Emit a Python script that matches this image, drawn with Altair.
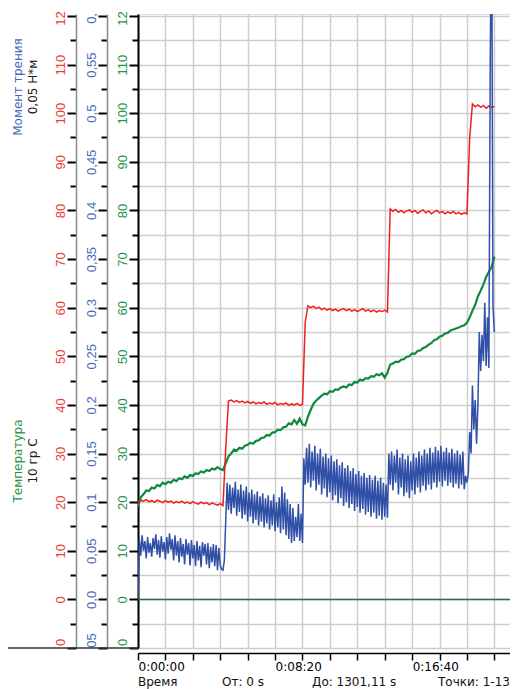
import altair as alt
import pandas as pd

# ---------------- data ----------------
red_step = 10   # seconds between red samples
red_values = [
    19.9, 20.4, 20.2, 20.5, 20.1, 20.3, 20.0, 20.4, 20.2, 19.9,
    20.3, 20.0, 20.2, 19.8, 20.1, 19.9, 20.2, 19.8, 20.0, 19.7,
    20.1, 19.8, 19.6, 20.0, 19.7, 19.9, 19.5, 19.8, 19.6, 19.4,
    19.7, 19.3, 31.0, 40.8,
    41.0, 40.6, 40.9, 40.5, 40.8, 40.4, 40.7, 40.3, 40.6, 40.2,
    40.5, 40.3, 40.6, 40.1, 40.4, 40.2, 40.5, 40.0, 40.3, 40.1,
    40.4, 39.9, 40.2, 40.0, 40.3, 39.9, 40.1,
    57.0, 60.4,
    60.0, 60.3, 59.8, 60.1, 59.6, 59.9, 59.5, 59.8, 59.4, 59.7,
    59.3, 59.6, 59.8, 59.4, 59.7, 59.3, 59.6, 59.2, 59.5, 59.8,
    59.3, 59.6, 59.2, 59.5, 59.1, 59.4, 59.2, 59.5, 59.1,
    80.3,
    79.8, 80.2, 79.6, 80.0, 79.5, 79.9, 80.1, 79.6, 80.0, 79.4,
    79.8, 80.1, 79.5, 79.9, 79.3, 79.7, 80.0, 79.5, 79.8, 79.3,
    79.7, 79.4, 79.8, 79.3, 79.6, 79.2, 79.5, 79.3,
    95.0, 101.9,
    101.3, 101.7, 101.2, 101.6, 101.0, 101.5, 101.2, 101.4,
]

green_step = 10
green_values = [
    19.0, 21.0, 21.6, 22.4, 22.3, 23.0, 22.8, 23.5, 23.3, 24.0,
    23.7, 24.2, 24.0, 24.6, 24.3, 24.9, 24.7, 25.3, 25.0, 25.6,
    25.4, 25.9, 25.8, 26.3, 26.1, 26.6, 26.4, 26.9, 26.7, 27.2,
    26.8, 26.6, 28.0, 29.4, 30.0, 30.8, 30.6, 31.2, 31.0, 31.6,
    31.8, 32.2, 32.0, 32.6, 32.7, 33.2, 33.3, 33.8, 33.7, 34.3,
    34.4, 34.9, 34.8, 35.4, 35.5, 36.2, 36.0, 36.9, 36.1, 37.2,
    36.0, 35.8, 37.6, 39.0, 40.2, 40.9, 41.4, 41.9, 42.3, 42.2,
    42.8, 42.7, 43.2, 43.1, 43.6, 43.8, 43.6, 44.2, 44.1, 44.7,
    44.6, 45.2, 45.0, 45.5, 45.4, 45.9, 45.8, 46.3, 46.1, 46.5,
    45.6, 46.6, 48.3, 48.5, 48.9, 48.8, 49.3, 49.4, 49.9, 50.0,
    50.6, 50.5, 51.1, 51.2, 51.7, 51.9, 52.4, 52.7, 53.3, 53.5,
    54.0, 54.2, 54.7, 54.8, 55.3, 55.5, 55.7, 55.9, 56.2, 56.4,
    56.9, 58.0, 59.4, 60.6, 62.3, 63.5, 64.8, 66.3, 67.4, 68.4,
    70.5,
]

blue_step = 5   # seconds between blue samples, values in N*m
blue_values = [
    # 0 .. 310 s
    0.000, 0.062, 0.045, 0.066, 0.050, 0.060, 0.042, 0.064, 0.048, 0.058,
    0.044, 0.063, 0.052, 0.067, 0.046, 0.061, 0.043, 0.065, 0.049, 0.059,
    0.041, 0.064, 0.047, 0.068, 0.051, 0.062, 0.040, 0.066, 0.045, 0.060,
    0.038, 0.063, 0.044, 0.057, 0.036, 0.062, 0.046, 0.058, 0.035, 0.061,
    0.042, 0.056, 0.034, 0.060, 0.040, 0.055, 0.033, 0.059, 0.045, 0.057,
    0.036, 0.058, 0.032, 0.054, 0.038, 0.057, 0.034, 0.056, 0.030, 0.053,
    0.035, 0.031, 0.030,
    # 315 .. 600 s
    0.040, 0.080, 0.120, 0.092, 0.118, 0.088, 0.115, 0.094, 0.121, 0.086,
    0.113, 0.090, 0.118, 0.083, 0.112, 0.087, 0.116, 0.080, 0.110, 0.085,
    0.113, 0.078, 0.108, 0.082, 0.111, 0.076, 0.106, 0.080, 0.109, 0.074,
    0.104, 0.078, 0.107, 0.072, 0.102, 0.076, 0.108, 0.070, 0.100, 0.074,
    0.105, 0.068, 0.116, 0.072, 0.110, 0.066, 0.103, 0.062, 0.098, 0.058,
    0.094, 0.060, 0.085, 0.064, 0.098, 0.060, 0.088, 0.058,
    # 605 .. 910 s
    0.145, 0.118, 0.156, 0.120, 0.160, 0.115, 0.152, 0.122, 0.158, 0.112,
    0.150, 0.118, 0.155, 0.108, 0.147, 0.114, 0.150, 0.105, 0.145, 0.110,
    0.148, 0.102, 0.142, 0.107, 0.144, 0.099, 0.138, 0.104, 0.141, 0.096,
    0.135, 0.100, 0.138, 0.094, 0.132, 0.098, 0.135, 0.091, 0.129, 0.095,
    0.132, 0.089, 0.127, 0.093, 0.130, 0.087, 0.125, 0.090, 0.128, 0.085,
    0.123, 0.089, 0.127, 0.083, 0.122, 0.086, 0.125, 0.082, 0.120, 0.085,
    0.118, 0.084,
    # 915 .. 1200 s
    0.150, 0.118, 0.152, 0.112, 0.148, 0.120, 0.154, 0.108, 0.146, 0.115,
    0.150, 0.106, 0.144, 0.110, 0.148, 0.104, 0.142, 0.112, 0.150, 0.108,
    0.146, 0.115, 0.152, 0.110, 0.148, 0.117, 0.154, 0.112, 0.150, 0.118,
    0.156, 0.113, 0.151, 0.120, 0.157, 0.115, 0.153, 0.121, 0.158, 0.116,
    0.152, 0.122, 0.156, 0.117, 0.151, 0.120, 0.155, 0.115, 0.150, 0.119,
    0.153, 0.114, 0.149, 0.118, 0.152, 0.113, 0.127, 0.120,
    # 1205 .. 1300 s
    0.130, 0.172, 0.150, 0.220, 0.175, 0.205, 0.160, 0.200, 0.275, 0.235,
    0.272, 0.245, 0.305, 0.240, 0.290, 0.238, 0.557, 0.720, 0.300, 0.275,
]

zero_level = [0]

# axis tick values and texts
y_ticks = list(range(-10, 121, 5))
red_labels = {-10: "0", 0: "0", 10: "10", 20: "20", 30: "30", 40: "40", 50: "50",
              60: "60", 70: "70", 80: "80", 90: "90", 100: "100", 110: "110", 120: "12"}
green_labels = dict(red_labels)
blue_ticks = [round(v / 200, 3) for v in y_ticks]
blue_labels = {-0.05: "05", 0.0: "0,0", 0.05: "0,05", 0.1: "0,1", 0.15: "0,15", 0.2: "0,2",
               0.25: "0,25", 0.3: "0,3", 0.35: "0,35", 0.4: "0,4", 0.45: "0,45",
               0.5: "0,5", 0.55: "0,55", 0.6: "0,"}
x_ticks = list(range(0, 1301, 100))
x_labels = {0: "0:00:00", 500: "0:08:20", 1000: "0:16:40"}

titles = ["Момент трения", "0,05 Н*м", "Температура", "10 гр С"]
footer = ["Время", "От: 0 s", "До: 1301,11 s", "Точки: 1-13"]

# ---------------- styling ----------------
RED = "#ee1f1f"
GREEN = "#0f8a3c"
BLUE = "#3050a8"
RED_TXT = "#ee3a3a"
GREEN_TXT = "#1f9448"
BLUE_TXT = "#4a68b8"
GRID = "#cdcdcd"
NARROW = "Liberation Sans Narrow, Arial Narrow, Liberation Sans, Arial"
FONT = "DejaVu Sans"

W, H = 372, 634
X_DOM = [0, 1357]
Y_DOM = [-10, 120.4]
B_DOM = [-0.05, 0.602]


def lab_expr(mapping):
    parts = " : ".join(f"datum.value == {k} ? '{v}'" for k, v in mapping.items())
    return parts + " : ''"


x_enc = alt.X(
    "t:Q",
    scale=alt.Scale(domain=X_DOM, nice=False, zero=False),
    axis=alt.Axis(
        orient="bottom", offset=5, values=x_ticks, title=None, labelExpr=lab_expr(x_labels),
        labelAlign="left", labelBaseline="top", labelPadding=1, labelFont=FONT,
        labelFontSize=12, labelColor="black", labelOverlap=False, labelFlush=False,
        labelBound=False, tickColor="black", tickWidth=1.5, tickSize=7,
        domainColor="black", domainWidth=1.5, grid=True, gridColor=GRID, gridWidth=1.5,
    ),
)

green_df = pd.DataFrame({"t": [i * green_step for i in range(len(green_values))], "v": green_values})
red_df = pd.DataFrame({"t": [i * red_step for i in range(len(red_values))], "v": red_values})
blue_df = pd.DataFrame({"t": [i * blue_step for i in range(len(blue_values))], "v": blue_values})
zero_df = pd.DataFrame({"z": zero_level})


def y_axis(offset, ticks, labels, color, major_test, low, high, low_off, dom_color, dom_width, grid):
    return alt.Axis(
        orient="left", offset=offset, values=ticks, title=None, labelExpr=lab_expr(labels),
        labelAngle=270, labelAlign="center", labelBaseline="alphabetic", labelPadding=3,
        labelColor=color, labelFont=NARROW, labelFontSize=13, labelOverlap=False,
        labelFlush=False, labelBound=False, tickColor="black", tickWidth=2,
        tickSize={"condition": {"test": major_test, "value": 9}, "value": 6},
        labelOffset={"condition": [{"test": f"datum.value == {low}", "value": low_off},
                                   {"test": f"datum.value == {high}", "value": 2}],
                     "value": 0},
        domainColor=dom_color, domainWidth=dom_width, grid=grid, gridColor=GRID, gridWidth=1.5,
    )


green_axis = y_axis(0, y_ticks, green_labels, GREEN_TXT, "datum.value % 10 == 0",
                    -10, 120, -6, "black", 2, True)
blue_axis = y_axis(31, blue_ticks, blue_labels, BLUE_TXT, "round(datum.value * 1000) % 50 == 0",
                   -0.05, 0.6, -8, "#8a8a8a", 1.5, False)
red_axis = y_axis(62, y_ticks, red_labels, RED_TXT, "datum.value % 10 == 0",
                  -10, 120, -6, "#8a8a8a", 1.5, False)

zero_line = alt.Chart(zero_df).mark_rule(color="#2e6655", strokeWidth=1.5).encode(
    y=alt.Y("z:Q", scale=alt.Scale(domain=Y_DOM, nice=False, zero=False), axis=None)
)

green_line = alt.Chart(green_df).mark_line(color=GREEN, strokeWidth=2.2, clip=True).encode(
    x=x_enc,
    y=alt.Y("v:Q", scale=alt.Scale(domain=Y_DOM, nice=False, zero=False), axis=green_axis),
)
blue_line = alt.Chart(blue_df).mark_line(color=BLUE, strokeWidth=1.5, clip=True).encode(
    x=x_enc,
    y=alt.Y("v:Q", scale=alt.Scale(domain=B_DOM, nice=False, zero=False), axis=blue_axis),
)
red_line = alt.Chart(red_df).mark_line(color=RED, strokeWidth=1.5, clip=True).encode(
    x=x_enc,
    y=alt.Y("v:Q", scale=alt.Scale(domain=Y_DOM, nice=False, zero=False), axis=red_axis),
)

titles_df = pd.DataFrame({
    "text": titles,
    "px": [-120, -105, -120, -105],
    "py": [73, 73, 447, 447],
    "color": [BLUE_TXT, "#222222", GREEN_TXT, "#222222"],
})
title_layer = alt.Chart(titles_df).mark_text(
    angle=270, align="center", baseline="middle", font=FONT, fontSize=12
).encode(
    x=alt.X("px:Q", scale=None), y=alt.Y("py:Q", scale=None),
    text="text:N", color=alt.Color("color:N", scale=None),
)

footer_df = pd.DataFrame({"text": footer, "px": [0, 84, 174, 300], "py": [672] * 4})
footer_layer = alt.Chart(footer_df).mark_text(
    align="left", baseline="alphabetic", font=FONT, fontSize=12, color="#111111"
).encode(
    x=alt.X("px:Q", scale=None), y=alt.Y("py:Q", scale=None), text="text:N"
)

corner_df = pd.DataFrame({"a": [0]})
corner_rule = alt.Chart(corner_df).mark_rule(color="#333333", strokeWidth=1.5).encode(
    x=alt.value(-130), x2=alt.value(0), y=alt.value(H)
)

chart = alt.layer(
    zero_line, green_line, red_line, blue_line, title_layer, footer_layer, corner_rule
).resolve_scale(y="independent").properties(
    width=W, height=H,
    padding={"left": 130, "top": 6, "right": 0, "bottom": 41},
    autosize=alt.AutoSizeParams(type="none"),
).configure_view(strokeOpacity=0).configure(background="white")

chart.save("out.html", embed_options={"renderer": "svg", "actions": False})
